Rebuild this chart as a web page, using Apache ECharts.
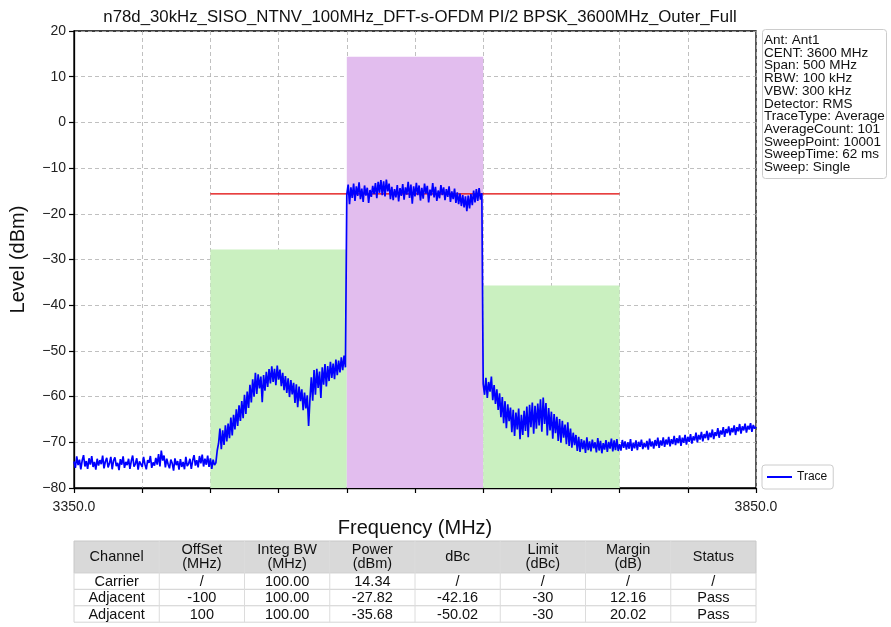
<!DOCTYPE html>
<html>
<head>
<meta charset="utf-8">
<script src="https://cdn.jsdelivr.net/npm/echarts@6/dist/echarts.min.js"></script>
<style>
  html, body { margin: 0; padding: 0; background: #fff; }
  #chart { width: 891px; height: 627px; }
</style>
</head>
<body>
<div id="chart"></div>
<script>
// spectrum sweep, one point per MHz starting at 3350 MHz
const traceStartMHz = 3350;
const traceStepMHz = 1;
const traceLevel = [
  // 3350
  -74.2,-75.6,-73.1,-75.0,-73.8,-75.9,-74.0,-72.8,-75.3,-74.1,
  -75.8,-73.5,-74.9,-73.0,-75.4,-74.3,-76.0,-73.6,-75.1,-73.9,
  -74.8,-72.9,-75.7,-74.2,-73.4,-75.5,-74.6,-73.2,-75.9,-74.0,
  -73.3,-75.2,-74.5,-76.1,-73.7,-74.9,-73.1,-75.6,-74.3,-75.0,
  -73.6,-75.8,-74.1,-72.9,-75.3,-74.7,-73.5,-76.0,-74.2,-73.8,
  // 3400
  -75.4,-73.2,-74.8,-75.9,-73.9,-74.5,-73.0,-75.6,-74.4,-75.1,
  -73.4,-74.9,-72.6,-75.3,-71.8,-74.0,-72.9,-75.5,-73.6,-74.8,
  -75.7,-73.8,-74.6,-76.2,-73.5,-75.0,-74.1,-76.0,-73.7,-75.4,
  -74.3,-75.9,-73.2,-75.2,-74.7,-73.6,-75.8,-74.0,-72.8,-75.1,
  -73.9,-75.5,-73.0,-74.6,-72.7,-75.3,-73.6,-74.9,-72.9,-75.4,
  // 3450
  -73.5,-75.8,-73.8,-75.0,-74.5,-71.8,-70.2,-67.0,-71.5,-67.4,
  -70.6,-66.3,-69.8,-65.9,-69.1,-64.6,-68.5,-64.0,-67.2,-62.8,
  -66.4,-61.9,-65.3,-61.0,-64.7,-59.6,-63.8,-58.9,-62.5,-57.4,
  -61.3,-56.2,-60.0,-54.8,-59.4,-55.1,-58.2,-55.6,-61.2,-55.3,
  -58.7,-54.6,-57.9,-54.0,-57.1,-53.4,-56.8,-53.9,-57.5,-53.2,
  // 3500
  -56.3,-54.1,-57.7,-54.8,-58.6,-55.5,-59.2,-56.0,-60.1,-56.4,
  -59.5,-57.0,-61.4,-57.3,-62.3,-57.8,-61.0,-58.4,-63.0,-59.1,
  -62.6,-59.7,-66.4,-60.5,-55.8,-60.9,-54.2,-59.6,-53.9,-58.1,
  -54.5,-60.3,-53.6,-57.4,-52.9,-57.8,-53.3,-56.6,-52.4,-55.9,
  -52.8,-56.2,-51.9,-55.3,-52.1,-54.7,-51.4,-54.2,-51.0,-53.6,
  // 3550
  -15.8,-13.6,-17.9,-14.2,-16.5,-13.4,-17.2,-14.0,-16.1,-13.1,
  -16.8,-14.5,-17.4,-13.8,-16.0,-14.3,-17.6,-14.8,-16.3,-13.9,
  -15.7,-13.3,-16.6,-13.0,-15.4,-12.6,-15.9,-12.9,-16.2,-12.5,
  -15.1,-13.4,-16.8,-14.1,-17.0,-14.6,-16.4,-13.7,-17.3,-14.4,
  -16.1,-13.5,-16.9,-14.2,-15.8,-13.0,-16.5,-13.6,-17.8,-14.0,
  // 3600
  -16.2,-13.2,-15.9,-13.8,-17.1,-14.3,-16.7,-13.4,-15.6,-13.9,
  -17.5,-14.7,-16.0,-13.3,-16.4,-14.1,-17.2,-14.9,-16.6,-13.7,
  -15.9,-14.2,-17.0,-14.6,-16.3,-14.0,-17.4,-15.1,-16.8,-14.5,
  -17.6,-15.3,-17.9,-15.6,-18.3,-15.9,-18.6,-16.2,-19.4,-16.0,
  -18.8,-15.7,-18.1,-14.9,-17.5,-14.6,-17.2,-14.4,-16.9,-15.5,
  // 3650
  -57.2,-59.6,-55.9,-60.3,-56.8,-58.9,-55.6,-60.8,-57.5,-61.6,
  -58.4,-62.9,-59.3,-64.5,-60.1,-65.8,-61.0,-66.9,-61.7,-65.4,
  -62.4,-67.8,-62.9,-68.6,-63.5,-67.2,-62.6,-69.3,-64.0,-68.4,
  -63.1,-67.5,-62.2,-68.9,-61.8,-66.7,-61.3,-68.1,-62.0,-67.0,
  -61.5,-66.3,-60.6,-67.7,-60.2,-66.0,-61.4,-68.5,-62.5,-67.4,
  // 3700
  -63.3,-69.2,-63.8,-68.0,-64.4,-69.7,-64.9,-70.1,-65.3,-69.0,
  -66.1,-70.4,-65.6,-70.8,-67.0,-71.2,-67.9,-70.6,-68.4,-71.9,
  -68.8,-72.1,-69.3,-71.5,-69.6,-72.3,-68.9,-71.7,-69.8,-72.0,
  -69.4,-71.3,-70.0,-72.2,-69.1,-71.8,-69.7,-72.4,-70.2,-71.6,
  -69.5,-72.1,-69.9,-71.4,-69.2,-72.0,-69.6,-71.7,-69.3,-71.9,
  // 3750
  -70.4,-71.8,-69.5,-71.2,-69.8,-71.6,-70.0,-71.4,-69.3,-71.9,
  -70.1,-71.3,-69.6,-71.7,-69.9,-71.0,-69.4,-71.5,-70.2,-71.1,
  -69.7,-71.6,-69.2,-70.9,-69.8,-71.4,-69.5,-70.8,-69.0,-71.2,
  -69.6,-70.7,-68.9,-71.0,-69.4,-70.5,-68.8,-70.9,-69.3,-70.4,
  -68.6,-70.6,-69.1,-70.2,-68.5,-70.8,-69.0,-70.1,-68.4,-70.5,
  // 3800
  -68.8,-69.9,-68.2,-70.3,-68.7,-69.6,-67.9,-70.0,-68.4,-69.4,
  -67.7,-69.8,-68.2,-69.1,-67.5,-69.5,-67.9,-68.9,-67.2,-69.3,
  -67.8,-68.6,-66.9,-69.0,-67.4,-68.3,-66.7,-68.8,-67.1,-68.0,
  -66.5,-68.5,-66.9,-67.8,-66.3,-68.4,-66.7,-67.6,-66.0,-68.1,
  -66.5,-67.4,-65.9,-67.9,-66.4,-67.2,-65.8,-67.7,-66.2,-67.0,
  -66.6
];

// integration bands (channel power boxes)
const bandStartMHz = [3450, 3550, 3650];
const bandStopMHz = [3550, 3650, 3750];
const bandPower = [-27.82, 14.34, -35.68];
const bandColor = ['#caf0c0', '#e2bdee', '#caf0c0'];

// limit line = carrier - 30 dB
const limitStartMHz = 3450;
const limitStopMHz = 3750;
const limitLevel = -15.66;

const xMin = 3350, xMax = 3850;
const yMin = -80, yMax = 20;

const infoLines = [
  'Ant: Ant1', 'CENT: 3600 MHz', 'Span: 500 MHz', 'RBW: 100 kHz', 'VBW: 300 kHz',
  'Detector: RMS', 'TraceType: Average', 'AverageCount: 101', 'SweepPoint: 10001',
  'SweepTime: 62 ms', 'Sweep: Single'
];

const tableHeader = ['Channel', 'OffSet\n(MHz)', 'Integ BW\n(MHz)', 'Power\n(dBm)', 'dBc', 'Limit\n(dBc)', 'Margin\n(dB)', 'Status'];
const tableRows = [
  ['Carrier', '/', '100.00', '14.34', '/', '/', '/', '/'],
  ['Adjacent', '-100', '100.00', '-27.82', '-42.16', '-30', '12.16', 'Pass'],
  ['Adjacent', '100', '100.00', '-35.68', '-50.02', '-30', '20.02', 'Pass']
];

const font = '"Liberation Sans", Arial, Helvetica, sans-serif';

const traceData = traceLevel.map((v, i) => [traceStartMHz + i * traceStepMHz, v]);

const bandAreas = bandPower.map((p, i) => [
  { coord: [bandStartMHz[i], yMin], itemStyle: { color: bandColor[i], opacity: 1 } },
  { coord: [bandStopMHz[i], p] }
]);

// table drawn as graphic cells
const tabLeft = 74, tabTop = 541, tabWidth = 682;
const headH = 32, rowH = 16.4;
const colW = tabWidth / tableHeader.length;
const tableGraphics = [];
tableGraphics.push({
  type: 'rect', shape: { x: tabLeft, y: tabTop, width: tabWidth, height: headH },
  style: { fill: '#d9d9d9', stroke: '#c8c8c8', lineWidth: 1 }
});
tableHeader.forEach((h, c) => {
  tableGraphics.push({
    type: 'text', x: tabLeft + colW * (c + 0.5), y: tabTop + headH / 2,
    style: { text: h, font: '14.5px ' + font, fill: '#111', align: 'center', verticalAlign: 'middle', lineHeight: 14.5 }
  });
});
tableRows.forEach((row, r) => {
  const y0 = tabTop + headH + r * rowH;
  tableGraphics.push({
    type: 'rect', shape: { x: tabLeft, y: y0, width: tabWidth, height: rowH },
    style: { fill: '#fff', stroke: '#d6d6d6', lineWidth: 1 }
  });
  row.forEach((cell, c) => {
    tableGraphics.push({
      type: 'text', x: tabLeft + colW * (c + 0.5), y: y0 + rowH / 2 + 0.5,
      style: { text: cell, font: '14.5px ' + font, fill: '#111', align: 'center', verticalAlign: 'middle' }
    });
  });
});
for (let c = 1; c < tableHeader.length; c++) {
  tableGraphics.push({
    type: 'line', shape: { x1: tabLeft + colW * c, y1: tabTop, x2: tabLeft + colW * c, y2: tabTop + headH + rowH * tableRows.length },
    style: { stroke: '#dcdcdc', lineWidth: 1 }
  });
}

const chart = echarts.init(document.getElementById('chart'), null, { renderer: 'canvas' });
chart.setOption({
  animation: false,
  backgroundColor: '#fff',
  textStyle: { fontFamily: font },
  title: [
    {
      text: 'n78d_30kHz_SISO_NTNV_100MHz_DFT-s-OFDM PI/2 BPSK_3600MHz_Outer_Full',
      left: 415, top: 4, textAlign: 'center',
      textStyle: { fontSize: 16.8, fontWeight: 'normal', color: '#111', fontFamily: font }
    },
    {
      text: infoLines.join('\n'),
      left: 762, top: 30,
      padding: [4, 2, 4, 2],
      borderColor: '#cccccc', borderWidth: 1, borderRadius: 3,
      backgroundColor: '#fff',
      textStyle: { fontSize: 13.5, lineHeight: 12.7, fontWeight: 'normal', color: '#111', fontFamily: font }
    }
  ],
  legend: {
    left: 762, top: 465,
    data: [{ name: 'Trace', icon: 'rect' }],
    itemWidth: 25, itemHeight: 2, itemGap: 8,
    padding: [6, 6, 6, 5],
    borderColor: '#cccccc', borderWidth: 1, borderRadius: 3,
    textStyle: { fontSize: 12, color: '#111', fontFamily: font }
  },
  grid: {
    left: 74, right: 135, top: 31, bottom: 139,
    show: true, borderColor: '#000', borderWidth: 1.3, backgroundColor: 'transparent'
  },
  xAxis: {
    type: 'value', min: xMin, max: xMax, interval: 50,
    name: 'Frequency (MHz)', nameLocation: 'middle', nameGap: 29,
    nameTextStyle: { fontSize: 20, color: '#111', fontFamily: font },
    axisLine: { show: true, onZero: false, lineStyle: { color: '#000', width: 1.3 } },
    axisTick: { show: true, length: 5, lineStyle: { color: '#000', width: 1.2 } },
    axisLabel: {
      fontSize: 14, color: '#222', margin: 12, fontFamily: font,
      formatter: v => (v === xMin || v === xMax) ? v.toFixed(1) : ''
    },
    splitLine: { show: true, lineStyle: { color: '#b0b0b0', type: [4, 3], width: 0.8 } }
  },
  yAxis: {
    type: 'value', min: yMin, max: yMax, interval: 10,
    name: 'Level (dBm)', nameLocation: 'middle', nameGap: 46,
    nameTextStyle: { fontSize: 20, color: '#111', fontFamily: font },
    axisLine: { show: true, lineStyle: { color: '#000', width: 1.3 } },
    axisTick: { show: true, length: 5, lineStyle: { color: '#000', width: 1.2 } },
    axisLabel: {
      fontSize: 14, color: '#222', margin: 8, fontFamily: font,
      formatter: v => String(v).replace('-', '\u2212')
    },
    splitLine: { show: true, lineStyle: { color: '#b0b0b0', type: [4, 3], width: 0.8 } }
  },
  series: [
    {
      name: 'bands', type: 'line', data: [], z: 1, silent: true,
      markArea: { silent: true, data: bandAreas }
    },
    {
      name: 'Limit', type: 'line', z: 2, silent: true, symbol: 'none',
      data: [[limitStartMHz, limitLevel], [limitStopMHz, limitLevel]],
      lineStyle: { color: '#e00000', width: 1.3 }
    },
    {
      name: 'Trace', type: 'line', z: 3, symbol: 'none',
      data: traceData,
      itemStyle: { color: '#0000ff' },
      lineStyle: { color: '#0000ff', width: 1.7 }
    }
  ],
  graphic: tableGraphics
});
</script>
</body>
</html>
